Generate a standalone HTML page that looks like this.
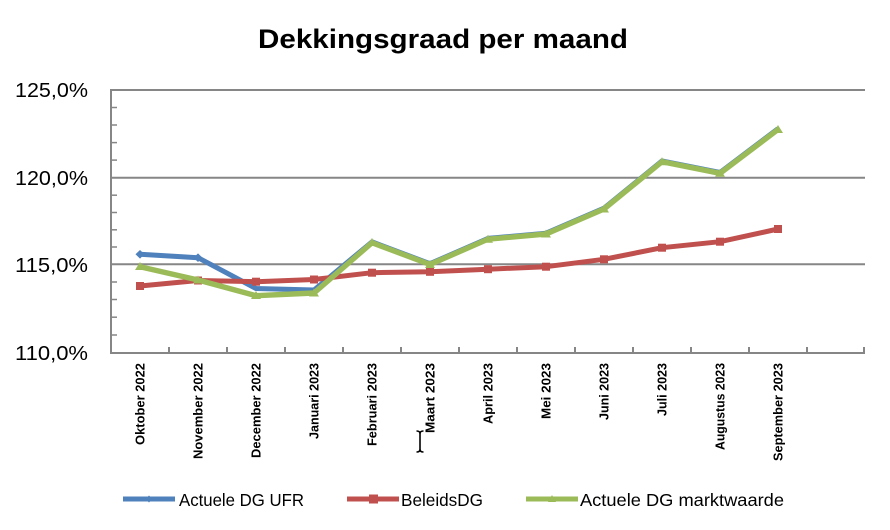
<!DOCTYPE html>
<html><head><meta charset="utf-8"><style>
html,body{margin:0;padding:0;background:#fff;}
svg{display:block;}
text{font-family:"Liberation Sans",Arial,sans-serif;fill:#000;}
</style></head><body>
<svg width="890" height="530" viewBox="0 0 890 530" xmlns="http://www.w3.org/2000/svg">
<rect width="890" height="530" fill="#fff"/>
<text x="443" y="48" font-size="27" font-weight="bold" text-anchor="middle" textLength="370" lengthAdjust="spacingAndGlyphs">Dekkingsgraad per maand</text>

<!-- gridlines -->
<g stroke="#868686" stroke-width="2" fill="none">
<line x1="111" y1="90" x2="865" y2="90"/>
<line x1="111" y1="177.7" x2="865" y2="177.7"/>
<line x1="111" y1="264.3" x2="865" y2="264.3"/>
<line x1="111" y1="353" x2="865" y2="353"/>
<line x1="111" y1="89" x2="111" y2="354"/>
</g>
<!-- y minor ticks -->
<g stroke="#868686" stroke-width="1.5">
<line x1="111" y1="107.5" x2="117" y2="107.5"/>
<line x1="111" y1="125" x2="117" y2="125"/>
<line x1="111" y1="142.6" x2="117" y2="142.6"/>
<line x1="111" y1="160.1" x2="117" y2="160.1"/>
<line x1="111" y1="195.2" x2="117" y2="195.2"/>
<line x1="111" y1="212.5" x2="117" y2="212.5"/>
<line x1="111" y1="229.8" x2="117" y2="229.8"/>
<line x1="111" y1="247" x2="117" y2="247"/>
<line x1="111" y1="282" x2="117" y2="282"/>
<line x1="111" y1="299.5" x2="117" y2="299.5"/>
<line x1="111" y1="317.2" x2="117" y2="317.2"/>
<line x1="111" y1="335" x2="117" y2="335"/>
</g>
<!-- x ticks -->
<g stroke="#868686" stroke-width="2">
<line x1="169" y1="347" x2="169" y2="353"/>
<line x1="227" y1="347" x2="227" y2="353"/>
<line x1="285" y1="347" x2="285" y2="353"/>
<line x1="343" y1="347" x2="343" y2="353"/>
<line x1="401" y1="347" x2="401" y2="353"/>
<line x1="459" y1="347" x2="459" y2="353"/>
<line x1="517" y1="347" x2="517" y2="353"/>
<line x1="575" y1="347" x2="575" y2="353"/>
<line x1="633" y1="347" x2="633" y2="353"/>
<line x1="691" y1="347" x2="691" y2="353"/>
<line x1="749" y1="347" x2="749" y2="353"/>
<line x1="807" y1="347" x2="807" y2="353"/>
<line x1="864" y1="347" x2="864" y2="353"/>
</g>

<!-- y labels -->
<g font-size="20" text-anchor="end">
<text x="88" y="97" textLength="73" lengthAdjust="spacingAndGlyphs">125,0%</text>
<text x="88" y="185" textLength="73" lengthAdjust="spacingAndGlyphs">120,0%</text>
<text x="88" y="272" textLength="73" lengthAdjust="spacingAndGlyphs">115,0%</text>
<text x="88" y="360" textLength="73" lengthAdjust="spacingAndGlyphs">110,0%</text>
</g>

<!-- x labels -->
<g font-size="13" font-weight="bold" text-anchor="end">
<text transform="translate(144.5,363) rotate(-90)" textLength="82" lengthAdjust="spacingAndGlyphs">Oktober 2022</text>
<text transform="translate(202.5,363) rotate(-90)" textLength="96" lengthAdjust="spacingAndGlyphs">November 2022</text>
<text transform="translate(260.5,363) rotate(-90)" textLength="95" lengthAdjust="spacingAndGlyphs">December 2022</text>
<text transform="translate(318.5,363) rotate(-90)" textLength="76" lengthAdjust="spacingAndGlyphs">Januari 2023</text>
<text transform="translate(376.5,363) rotate(-90)" textLength="83" lengthAdjust="spacingAndGlyphs">Februari 2023</text>
<text transform="translate(434.5,363) rotate(-90)" textLength="70" lengthAdjust="spacingAndGlyphs">Maart 2023</text>
<text transform="translate(492.5,363) rotate(-90)" textLength="61" lengthAdjust="spacingAndGlyphs">April 2023</text>
<text transform="translate(550.5,363) rotate(-90)" textLength="56" lengthAdjust="spacingAndGlyphs">Mei 2023</text>
<text transform="translate(608.5,363) rotate(-90)" textLength="57" lengthAdjust="spacingAndGlyphs">Juni 2023</text>
<text transform="translate(666.5,363) rotate(-90)" textLength="53" lengthAdjust="spacingAndGlyphs">Juli 2023</text>
<text transform="translate(724.5,363) rotate(-90)" textLength="87" lengthAdjust="spacingAndGlyphs">Augustus 2023</text>
<text transform="translate(782.5,363) rotate(-90)" textLength="98" lengthAdjust="spacingAndGlyphs">September 2023</text>
</g>

<!-- cursor -->
<g stroke="#000" stroke-width="1.6" fill="none">
<line x1="420" y1="432" x2="420" y2="451"/>
<path d="M416.5 431 Q420 431 420 433.5 Q420 431 423.5 431"/>
<path d="M416.5 452 Q420 452 420 449.5 Q420 452 423.5 452"/>
</g>

<!-- Blue series -->
<polyline fill="none" stroke="#4F81BD" stroke-width="5" stroke-linejoin="round"
 points="140,254.3 198,257.7 256,288.5 314,290 372,241.9 430,263.7 488,238.4 546,233.2 604,208.2 662,160.9 720,172.5 778,128.7"/>
<g fill="#4F81BD">
<polygon points="140,250 144.5,254.3 140,258.6 135.5,254.3"/>
<polygon points="198,253.4 202.5,257.7 198,262 193.5,257.7"/>
</g>

<!-- Red series -->
<polyline fill="none" stroke="#C0504D" stroke-width="5" stroke-linejoin="round"
 points="140,286 198,280.5 256,281.7 314,279.5 372,272.7 430,271.8 488,269.2 546,266.7 604,259.3 662,247.7 720,241.7 778,229"/>
<g fill="#C0504D">
<rect x="136" y="282" width="8" height="8"/>
<rect x="194" y="276.5" width="8" height="8"/>
<rect x="252" y="277.7" width="8" height="8"/>
<rect x="310" y="275.5" width="8" height="8"/>
<rect x="368" y="268.7" width="8" height="8"/>
<rect x="426" y="267.8" width="8" height="8"/>
<rect x="484" y="265.2" width="8" height="8"/>
<rect x="542" y="262.7" width="8" height="8"/>
<rect x="600" y="255.3" width="8" height="8"/>
<rect x="658" y="243.7" width="8" height="8"/>
<rect x="716" y="237.7" width="8" height="8"/>
<rect x="774" y="225" width="8" height="8"/>
</g>

<!-- Green series -->
<polyline fill="none" stroke="#9BBB59" stroke-width="5.4" stroke-linejoin="round"
 points="140,266.7 198,280 256,295.7 314,293 372,242.7 430,264.5 488,239.2 546,234 604,209 662,161.7 720,173.3 778,129.5"/>
<g fill="#9BBB59">
<polygon points="140,262 145,270 135,270"/>
<polygon points="198,275.5 203,283.5 193,283.5"/>
<polygon points="256,291 261,299 251,299"/>
<polygon points="314,288.5 319,296.5 309,296.5"/>
<polygon points="372,238 377,246 367,246"/>
<polygon points="430,260 435,268 425,268"/>
<polygon points="488,234.7 493,242.7 483,242.7"/>
<polygon points="546,229.5 551,237.5 541,237.5"/>
<polygon points="604,204.5 609,212.5 599,212.5"/>
<polygon points="662,157.2 667,165.2 657,165.2"/>
<polygon points="720,168.8 725,176.8 715,176.8"/>
<polygon points="778,125 783,133 773,133"/>
</g>

<!-- Legend -->
<line x1="123" y1="499" x2="175" y2="499" stroke="#4F81BD" stroke-width="5"/>
<polygon points="149,495.5 152.5,499 149,502.5 145.5,499" fill="#4F81BD"/>
<text x="179" y="506" font-size="17.5" textLength="125" lengthAdjust="spacingAndGlyphs">Actuele DG UFR</text>

<line x1="347" y1="499" x2="399" y2="499" stroke="#C0504D" stroke-width="5"/>
<rect x="369" y="494.5" width="9" height="9" fill="#C0504D"/>
<text x="401" y="506" font-size="17.5" textLength="82" lengthAdjust="spacingAndGlyphs">BeleidsDG</text>

<line x1="526" y1="499" x2="578" y2="499" stroke="#9BBB59" stroke-width="5"/>
<polygon points="552,495 556,502 548,502" fill="#9BBB59"/>
<text x="580" y="506" font-size="17.5" textLength="204" lengthAdjust="spacingAndGlyphs">Actuele DG marktwaarde</text>
</svg>
</body></html>
